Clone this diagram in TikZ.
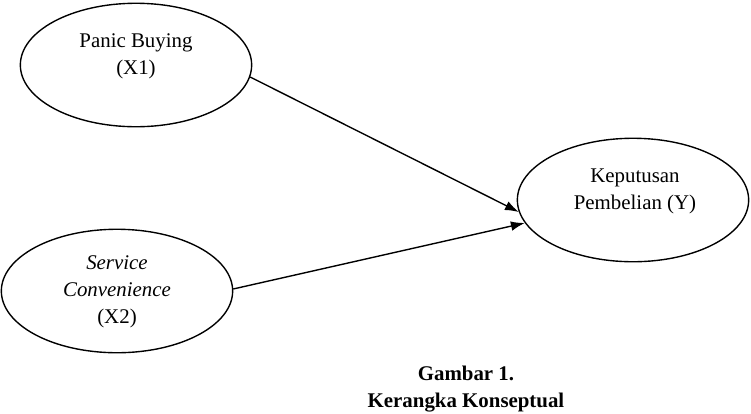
\documentclass[tikz,border=0pt]{standalone}
\usepackage{fontspec}
\setmainfont{Liberation Serif}
\usetikzlibrary{shapes.geometric}
\usetikzlibrary{arrows.meta}

\tikzset{
    var/.style={draw, ellipse, line width=0.8pt, inner sep=0pt,
        minimum width=133pt, minimum height=71pt},
    lbl/.style={align=center, font=\fontsize{12}{15.5}\selectfont},
    path/.style={-{Latex[length=8pt, width=5.5pt]}, line width=0.8pt}
}

\begin{document}
\begin{tikzpicture}[x=0.575pt, y=-0.575pt]
    \useasboundingbox (0, 0) rectangle (751, 413);

    \node[var] (x1) at (136, 65) {};
    \node[var] (x2) at (117, 291) {};
    \node[var] (y) at (633, 200) {};

    \node[lbl] at (136, 56) {Panic Buying\\(X1)};
    \node[lbl] at (117, 292) {\textit{Service}\\\textit{Convenience}\\(X2)};
    \node[lbl] at (635, 191) {Keputusan\\Pembelian (Y)};

    \draw[path] (x1.-6) -- (y.186);
    \draw[path] (x2.1.5) -- (y.192.6);

    \node[lbl, font=\fontsize{12}{15.5}\selectfont\bfseries] at (466, 389.5) {Gambar 1.\\Kerangka Konseptual};
\end{tikzpicture}
\end{document}
